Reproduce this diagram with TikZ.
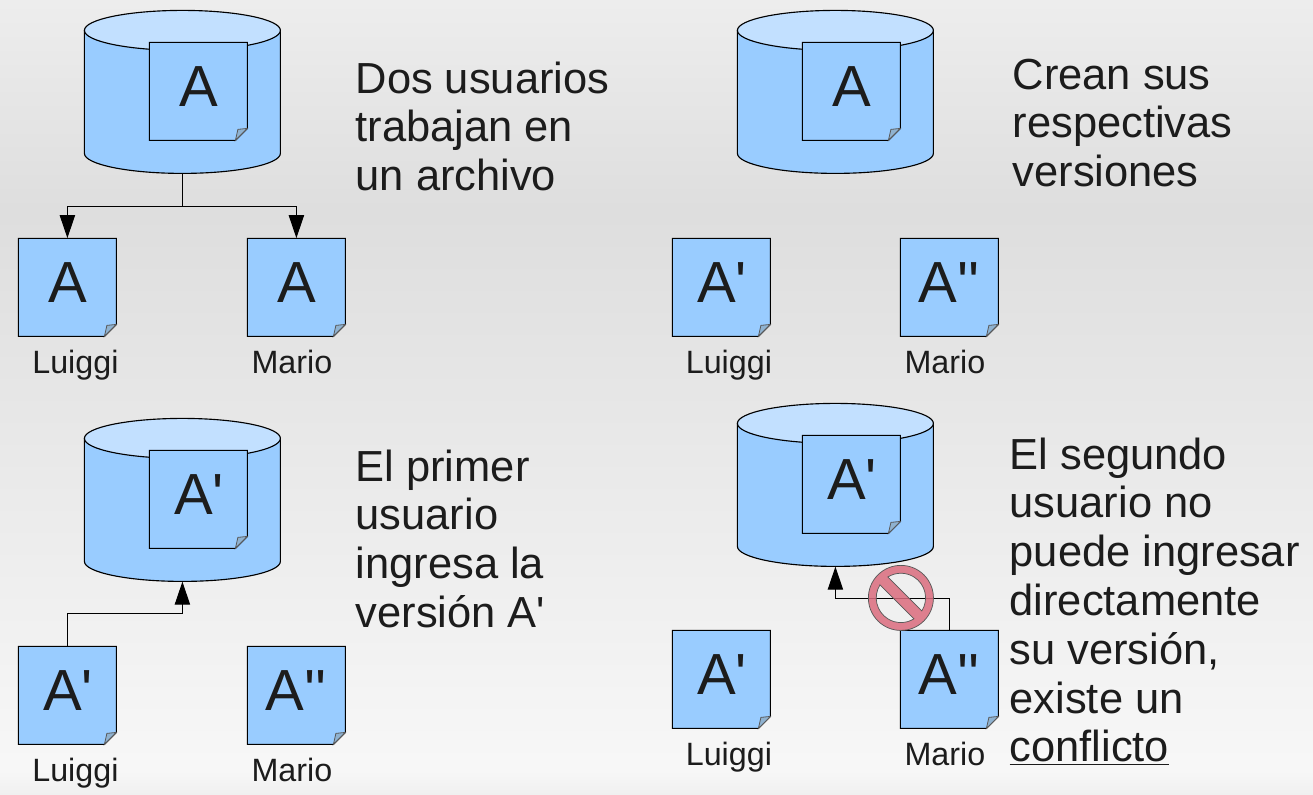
\documentclass[tikz,border=0pt]{standalone}
\usepackage{fontspec}
\newfontfamily\lib{Liberation Sans}[Ligatures=NoCommon]
\usetikzlibrary{arrows.meta}
\definecolor{ink}{HTML}{1C1C1C}
\definecolor{blueA}{HTML}{99CCFF}
\definecolor{blueB}{HTML}{C2E0FF}
\definecolor{foldc}{HTML}{8FB2D0}
\definecolor{signc}{HTML}{DB6C7E}
\tikzset{
  outline/.style={draw=black,line width=0.85pt,line join=miter},
  docbox/.style={rectangle,minimum width=73.5pt,minimum height=73.5pt,inner sep=0pt,text=ink,text height=33pt,text depth=10.5pt,font=\lib\fontsize{43.5}{48}\selectfont},
  cylbox/.style={rectangle,minimum width=147pt,minimum height=122.25pt,inner sep=0pt},
  conn/.style={draw=black,line width=0.8pt},
  arrowc/.style={conn,-{Triangle[length=17.25pt,width=11.5pt,fill=black]}},
  who/.style={text=ink,font=\lib\fontsize{24.2}{28}\selectfont,inner sep=0pt,anchor=base},
  blurb/.style={text=ink,anchor=north west,align=left,inner sep=0pt,font=\lib\fontsize{32.6}{36.6}\selectfont}
}
\newcommand{\docshape}[4]{%
  \fill[blueA] (#2-49,#3-49) -- (#2+49,#3-49) -- (#2+49,#3+37) -- (#2+37,#3+49) -- (#2-49,#3+49) -- cycle;
  \draw[outline] (#2-49,#3-49) -- (#2+49,#3-49) -- (#2+49,#3+37) -- (#2+37,#3+49) -- (#2-49,#3+49) -- cycle;
  \draw[draw=black!65,line width=0.6pt,fill=foldc] (#2+37,#3+49) -- (#2+39.5,#3+38) -- (#2+49,#3+37) -- cycle;
  \node[docbox] (#1) at (#2,#3) {#4};}
\newcommand{\cylshape}[3]{%
  \draw[outline,fill=blueA] (#2-98,#3) -- (#2-98,#3+123) .. controls (#2-98,#3+134) and (#2-54,#3+143) .. (#2,#3+143) .. controls (#2+54,#3+143) and (#2+98,#3+134) .. (#2+98,#3+123) -- (#2+98,#3) -- cycle;
  \draw[outline,fill=blueB] (#2-98,#3) .. controls (#2-98,#3-11) and (#2-54,#3-20) .. (#2,#3-20) .. controls (#2+54,#3-20) and (#2+98,#3-11) .. (#2+98,#3) .. controls (#2+98,#3+11) and (#2+54,#3+20) .. (#2,#3+20) .. controls (#2-54,#3+20) and (#2-98,#3+11) .. (#2-98,#3) -- cycle;
  \node[cylbox] (#1) at (#2,#3+61.5) {};}
\begin{document}
\begin{tikzpicture}[x=0.75pt,y=-0.75pt]
\useasboundingbox (0,0) rectangle (1313,795);
\shade[top color=black!7,bottom color=black!13] (0,0) rectangle (1313,211);
\shade[top color=black!13,bottom color=black!3] (0,210) rectangle (1313,771);
\shade[top color=black!3,bottom color=black!6] (0,770) rectangle (1313,795);

\begin{scope}[shift={(0.4,0.4)}]
% panel 1
\cylshape{c1}{182}{30}
\docshape{d1}{198}{91}{A}
\docshape{d1l}{67}{287}{A}
\docshape{d1m}{296}{287}{A}
\node[who] (w1l) at (75,373) {Luiggi};
\node[who] (w1m) at (291.5,373) {Mario};
\coordinate (j1) at (182,206);
\draw[arrowc] (c1.south) -- (j1) -| (d1l.north);
\draw[arrowc] (c1.south) -- (j1) -| (d1m.north);
\node[blurb] (t1) at (355,61) {Dos usuarios\\trabajan en\\un archivo};

% panel 2
\cylshape{c2}{835}{30}
\docshape{d2}{851}{91}{A}
\docshape{d2l}{721}{287}{\hspace{1pt}A\textquotesingle}
\docshape{d2m}{949}{287}{A\textquotesingle\textquotesingle}
\node[who] (w2l) at (728.5,373) {Luiggi};
\node[who] (w2m) at (944.5,373) {Mario};
\node[blurb] (t2) at (1012,58) {Crean sus\\respectivas\\versiones};

% panel 3
\cylshape{c3}{182}{438}
\docshape{d3}{198}{499}{\hspace{1pt}A\textquotesingle}
\docshape{d3l}{67}{695}{\hspace{1pt}A\textquotesingle}
\docshape{d3m}{296}{695}{A\textquotesingle\textquotesingle}
\node[who] (w3l) at (75,781) {Luiggi};
\node[who] (w3m) at (291.5,781) {Mario};
\coordinate (j3) at (67,613);
\draw[arrowc] (d3l.north) -- (j3) -| (c3.south);
\node[blurb] (t3) at (355,449) {El primer\\usuario\\ingresa la\\versión A\textquotesingle};

% panel 4
\cylshape{c4}{835}{423}
\docshape{d4}{851}{484}{\hspace{1pt}A\textquotesingle}
\docshape{d4l}{721}{679}{\hspace{1pt}A\textquotesingle}
\docshape{d4m}{949}{679}{A\textquotesingle\textquotesingle}
\node[who] (w4l) at (728.5,765) {Luiggi};
\node[who] (w4m) at (944.5,765) {Mario};
\coordinate (j4) at (949,598);
\draw[arrowc] (d4m.north) -- (j4) -| (c4.south);
\node[blurb] (t4) at (1009,437) {El segundo\\usuario no\\puede ingresar\\directamente\\su versión,\\existe un\\\underline{conflicto}};

% prohibition sign
\begin{scope}[shift={(900.5,597.5)},x=0.75pt,y=0.75pt,rotate=-45]
  \path[fill=signc,fill opacity=0.85,draw=black!65,line width=0.55pt,even odd rule]
    (0,0) circle[radius=24.4pt]
    (13.1:18.5pt) arc[start angle=13.1,end angle=166.9,radius=18.5pt] -- cycle
    (193.1:18.5pt) arc[start angle=193.1,end angle=346.9,radius=18.5pt] -- cycle;
\end{scope}
\end{scope}
\end{tikzpicture}
\end{document}
